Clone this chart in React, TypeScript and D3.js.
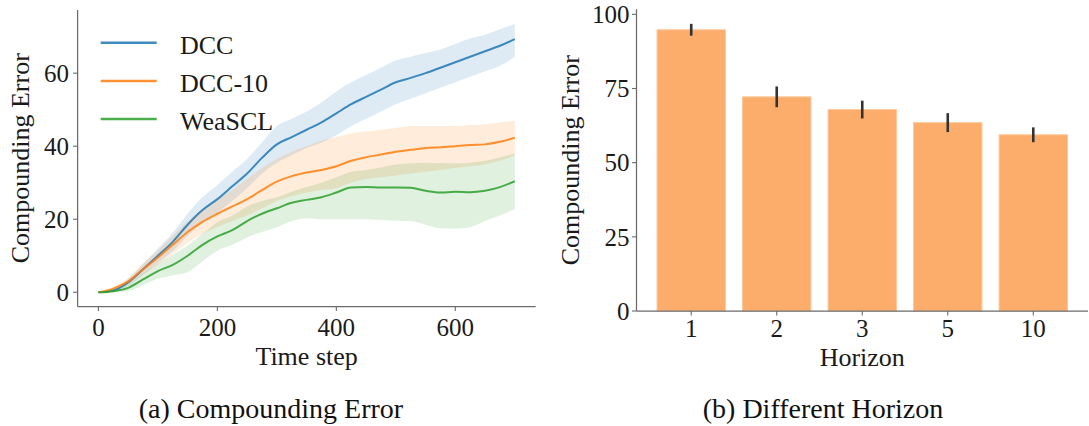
import React from "react";
import * as d3 from "d3";

const steps = [0, 25, 50, 75, 100, 125, 150, 175, 200, 225, 250, 275, 300, 325, 350, 375, 400, 425, 450, 475, 500, 525, 550, 575, 600, 625, 650, 675, 700];

const dccMean = [0, 0.5, 2.7, 6.3, 10, 13.8, 18.5, 22.5, 25.5, 29, 32.5, 36.8, 40.5, 42.5, 44.5, 46.5, 49, 51.5, 53.5, 55.5, 57.5, 58.7, 60, 61.5, 63, 64.5, 66, 67.5, 69.3];
const dccLow = [0, 0.2, 1.8, 4.8, 8, 11.3, 15.5, 19, 21.8, 25, 28.5, 32.5, 35.5, 37.5, 39.5, 41, 43, 45.5, 47.5, 49.5, 51.5, 53, 54.5, 56, 57.5, 59, 60.5, 62, 64.5];
const dccHigh = [0, 0.8, 3.6, 7.8, 12, 16.3, 21.5, 26, 29.3, 33, 36.5, 41, 45.5, 47.5, 49.5, 52, 55, 57.5, 59.5, 61.5, 63.5, 64.5, 65.5, 66.5, 68, 69.5, 70.5, 72, 73.5];

const dcc10Mean = [0, 1, 3, 6.3, 9.5, 13, 16.5, 19.3, 21.5, 23.5, 25.5, 28, 30.3, 31.8, 32.8, 33.5, 34.5, 36, 37, 37.7, 38.5, 39, 39.5, 39.7, 40, 40.3, 40.5, 41.2, 42.3];
const dcc10Low = [0, 0.5, 2, 4.8, 7.5, 10.5, 13.5, 16, 17.8, 19.5, 21, 23, 25, 26.3, 27.3, 28, 28.5, 30, 31, 31.5, 32, 32.5, 33, 33.5, 34, 34.5, 35, 36, 37.5];
const dcc10High = [0, 1.5, 4, 7.8, 11.5, 15.5, 19.5, 22.8, 25.5, 28, 31, 34, 36.5, 38.5, 40, 41.5, 42.5, 43.5, 44, 44.5, 45, 45.5, 45.5, 45.5, 45.5, 45.8, 46, 46.5, 47];

const weaMean = [0, 0.3, 1.2, 3.5, 5.8, 7.5, 10, 13, 15.3, 17, 19.5, 21.5, 23, 24.5, 25.3, 26, 27.3, 28.7, 28.8, 28.7, 28.7, 28.6, 27.8, 27.3, 27.5, 27.4, 27.8, 28.8, 30.4];
const weaLow = [0, 0, 0.3, 2, 3.7, 4.6, 5.5, 8.5, 11.4, 13, 15, 16.5, 17.8, 19.5, 20.3, 20, 20, 20, 20, 19.8, 19.6, 19.5, 18.5, 17.5, 17.4, 17.8, 19.5, 21, 22.8];
const weaHigh = [0, 0.6, 2.1, 5, 7.8, 10.3, 12.8, 16, 19.2, 21, 23.5, 25, 26, 27.5, 28.8, 30, 31.5, 33, 33.5, 34.2, 35, 35.3, 35.5, 35.4, 35.3, 35.5, 36, 37, 38];

const seriesNames = ["DCC", "DCC-10", "WeaSCL"];
const seriesColors = ["#1f77b4", "#ff7f0e", "#2ca02c"];

const leftXTicks = [0, 200, 400, 600];
const leftYTicks = [0, 20, 40, 60];

const horizons = ["1", "2", "3", "5", "10"];
const horizonValues = [94.8, 72.2, 67.9, 63.5, 59.4];
const horizonErr = [2.0, 3.5, 3.0, 3.2, 2.5];
const rightYTicks = [0, 25, 50, 75, 100];

const FONT = "'Liberation Serif', 'Times New Roman', serif";
const SPINE = "#6b6b6b";

export default function App() {
  const series = [
    { name: seriesNames[0], color: seriesColors[0], mean: dccMean, low: dccLow, high: dccHigh },
    { name: seriesNames[1], color: seriesColors[1], mean: dcc10Mean, low: dcc10Low, high: dcc10High },
    { name: seriesNames[2], color: seriesColors[2], mean: weaMean, low: weaLow, high: weaHigh },
  ];

  // Left chart scales
  const xL = d3.scaleLinear().domain([-35, 735]).range([77.6, 535.6]);
  const yL = d3.scaleLinear().domain([-3.9, 77.3]).range([306.5, 10]);

  const line = (vals: number[]) =>
    d3
      .line<number>()
      .x((_, i) => xL(steps[i]))
      .y((v) => yL(v))
      .curve(d3.curveMonotoneX)(vals) || "";
  const area = (lo: number[], hi: number[]) =>
    d3
      .area<number>()
      .x((_, i) => xL(steps[i]))
      .y0((_, i) => yL(lo[i]))
      .y1((_, i) => yL(hi[i]))
      .curve(d3.curveMonotoneX)(lo) || "";

  // Right chart scales
  const xR = d3.scaleBand<string>().domain(horizons).range([636.5, 1088]).paddingInner(0.2).paddingOuter(0.24);
  const yR = d3.scaleLinear().domain([0, 101.7]).range([311, 9.3]);

  const legendY = [42.7, 81, 119];

  return (
    <svg
      width={1089}
      height={426}
      style={{ position: "absolute", left: 0, top: 0, background: "#fff" }}
      fontFamily={FONT}
    >
      <rect x={0} y={0} width={1089} height={426} fill="#fff" />
      {/* ===== Left chart ===== */}
      <g>
        {series.map((s) => (
          <path key={"a" + s.name} d={area(s.low, s.high)} fill={s.color} fillOpacity={0.15} stroke="none" />
        ))}
        {series.map((s) => (
          <path key={"l" + s.name} d={line(s.mean)} fill="none" stroke={s.color} strokeOpacity={0.85} strokeWidth={2} />
        ))}
        {/* spines */}
        <line x1={xL.range()[0]} x2={xL.range()[0]} y1={yL.range()[0]} y2={yL.range()[1]} stroke={SPINE} strokeWidth={1.25} />
        <line x1={xL.range()[0]} x2={xL.range()[1]} y1={yL.range()[0]} y2={yL.range()[0]} stroke={SPINE} strokeWidth={1.25} />
        {leftYTicks.map((t) => (
          <g key={"ly" + t}>
            <line x1={xL.range()[0] - 4.5} x2={xL.range()[0]} y1={yL(t)} y2={yL(t)} stroke={SPINE} strokeWidth={1.1} />
            <text x={69} y={yL(t)} dy="0.35em" textAnchor="end" fontSize={25} fill="#1a1a1a">
              {t}
            </text>
          </g>
        ))}
        {leftXTicks.map((t) => (
          <g key={"lx" + t}>
            <line x1={xL(t)} x2={xL(t)} y1={yL.range()[0]} y2={yL.range()[0] + 4.5} stroke={SPINE} strokeWidth={1.1} />
            <text x={xL(t)} y={336} textAnchor="middle" fontSize={25} fill="#1a1a1a">
              {t}
            </text>
          </g>
        ))}
        <text x={(xL.range()[0] + xL.range()[1]) / 2} y={365} textAnchor="middle" fontSize={26} fill="#1a1a1a">
          Time step
        </text>
        <text
          transform={`translate(29, ${(yL.range()[0] + yL.range()[1]) / 2}) rotate(-90)`}
          textAnchor="middle"
          fontSize={26}
          fill="#1a1a1a"
        >
          Compounding Error
        </text>
        {/* legend */}
        {series.map((s, i) => (
          <g key={"lg" + s.name}>
            <line x1={100.7} x2={156.7} y1={legendY[i]} y2={legendY[i]} stroke={s.color} strokeOpacity={0.85} strokeWidth={2.5} />
            <text x={180} y={legendY[i] + 11} fontSize={26} fill="#1a1a1a">
              {s.name}
            </text>
          </g>
        ))}
      </g>

      {/* ===== Right chart ===== */}
      <g>
        {horizons.map((h, i) => (
          <rect
            key={"b" + h}
            x={xR(h)!}
            y={yR(horizonValues[i])}
            width={xR.bandwidth()}
            height={yR(0) - yR(horizonValues[i])}
            fill="#fdad6b"
            stroke="#fdc89c"
            strokeWidth={1}
          />
        ))}
        {horizons.map((h, i) => (
          <line
            key={"e" + h}
            x1={xR(h)! + xR.bandwidth() / 2}
            x2={xR(h)! + xR.bandwidth() / 2}
            y1={yR(horizonValues[i] - horizonErr[i])}
            y2={yR(horizonValues[i] + horizonErr[i])}
            stroke="#333"
            strokeWidth={2.6}
          />
        ))}
        <line x1={636.5} x2={636.5} y1={yR.range()[0]} y2={yR.range()[1]} stroke={SPINE} strokeWidth={1.25} />
        <line x1={636.5} x2={1088} y1={yR.range()[0]} y2={yR.range()[0]} stroke={SPINE} strokeWidth={1.25} />
        {rightYTicks.map((t) => (
          <g key={"ry" + t}>
            <line x1={632} x2={636.5} y1={yR(t)} y2={yR(t)} stroke={SPINE} strokeWidth={1.1} />
            <text x={629.5} y={yR(t)} dy="0.35em" textAnchor="end" fontSize={25} fill="#1a1a1a">
              {t}
            </text>
          </g>
        ))}
        {horizons.map((h) => (
          <g key={"rx" + h}>
            <line
              x1={xR(h)! + xR.bandwidth() / 2}
              x2={xR(h)! + xR.bandwidth() / 2}
              y1={yR.range()[0]}
              y2={yR.range()[0] + 4.5}
              stroke={SPINE}
              strokeWidth={1.1}
            />
            <text x={xR(h)! + xR.bandwidth() / 2} y={336.5} textAnchor="middle" fontSize={25} fill="#1a1a1a">
              {h}
            </text>
          </g>
        ))}
        <text x={(636.5 + 1088) / 2} y={366} textAnchor="middle" fontSize={26} fill="#1a1a1a">
          Horizon
        </text>
        <text
          transform={`translate(579, ${(yR.range()[0] + yR.range()[1]) / 2}) rotate(-90)`}
          textAnchor="middle"
          fontSize={26}
          fill="#1a1a1a"
        >
          Compounding Error
        </text>
      </g>

      {/* captions */}
      <text x={271} y={418} textAnchor="middle" fontSize={28} fill="#111">
        (a) Compounding Error
      </text>
      <text x={823} y={418} textAnchor="middle" fontSize={28} fill="#111">
        (b) Different Horizon
      </text>
    </svg>
  );
}
